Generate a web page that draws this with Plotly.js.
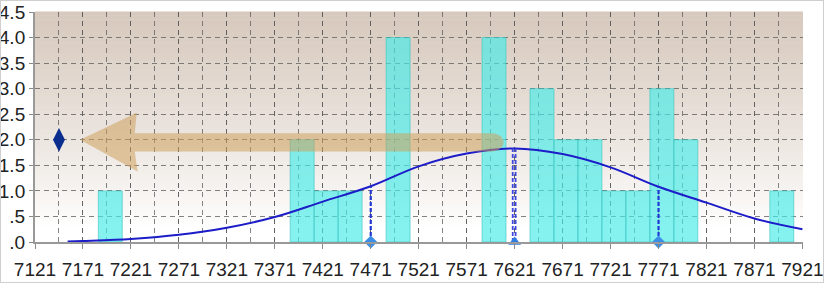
<!DOCTYPE html>
<html>
<head>
<meta charset="utf-8">
<script src="https://cdn.plot.ly/plotly-3.0.1.min.js"></script>
<style>
html,body{margin:0;padding:0;background:#fff;}
#chart{width:824px;height:283px;}
#frame{position:absolute;left:0;top:0;width:822px;height:281px;border:1px solid #cfcfcf;pointer-events:none;}
</style>
</head>
<body>
<div id="chart"></div>
<div id="frame"></div>
<script>
// ---- data ----
const binLeft  = [7187, 7387, 7412, 7437, 7487, 7587, 7637, 7662, 7687, 7712, 7737, 7762, 7787, 7887];
const binCount = [1,    2,    1,    1,    4,    4,    3,    2,    2,    1,    1,    3,    2,    1];
const binWidth = 25;

const curveX = [7155, 7171, 7221, 7271, 7321, 7371, 7421, 7471, 7521, 7571, 7621, 7671, 7721, 7771, 7821, 7871, 7921];
const curveY = [0.01, 0.02, 0.06, 0.14, 0.28, 0.49, 0.79, 1.09, 1.48, 1.73, 1.83, 1.72, 1.46, 1.08, 0.77, 0.46, 0.25];

const sigmaX = [7471, 7771];
const sigmaTop = [1.09, 1.08];
const meanX = [7621];
const meanTop = [1.83];

const legendMarkX = [7146];
const legendMarkY = [2.0];

const xTickVals = [7121, 7171, 7221, 7271, 7321, 7371, 7421, 7471, 7521, 7571, 7621, 7671, 7721, 7771, 7821, 7871, 7921];
const yTickVals = [0, 0.5, 1.0, 1.5, 2.0, 2.5, 3.0, 3.5, 4.0, 4.5];
const yTickText = ['.0', '.5', '1.0', '1.5', '2.0', '2.5', '3.0', '3.5', '4.0', '4.5'];

// ---- traces ----
const traces = [];
traces.push({
  type: 'bar', x: binLeft, y: binCount, width: binWidth, offset: 0,
  marker: {color: 'rgba(70,236,232,0.66)', line: {color: 'rgba(50,190,186,0.55)', width: 1}},
  hoverinfo: 'skip'
});
traces.push({
  type: 'scatter', mode: 'lines', x: curveX, y: curveY,
  line: {color: '#1c1cc8', width: 2, shape: 'spline', smoothing: 1}
});
sigmaX.forEach((x, i) => {
  traces.push({type: 'scatter', mode: 'lines', x: [x, x], y: [0, sigmaTop[i]],
    line: {color: '#2238d4', width: 2.2, dash: '4px,2px'}});
});
meanX.forEach((x, i) => {
  traces.push({type: 'scatter', mode: 'lines', x: [x - 2, x - 2], y: [0, meanTop[i]],
    line: {color: '#4048e0', width: 1.8, dash: '4px,2px'}});
  traces.push({type: 'scatter', mode: 'lines', x: [x + 1, x + 1], y: [0, meanTop[i]],
    line: {color: '#4048e0', width: 1.8, dash: '4px,2px'}});
});
traces.push({type: 'scatter', mode: 'markers', x: sigmaX, y: sigmaX.map(() => 0), cliponaxis: false,
  marker: {symbol: 'diamond', size: 10, color: '#3a8ee6'}});
traces.push({type: 'scatter', mode: 'markers', x: meanX, y: meanX.map(() => 0), cliponaxis: false,
  marker: {symbol: 'triangle-up', size: 11, color: '#2f7de2'}});
traces.push({type: 'scatter', mode: 'markers', x: legendMarkX, y: legendMarkY,
  marker: {symbol: 'diamond-tall', size: 17, color: '#0b2e8e'}});

// ---- background gradient strips ----
const shapes = [];
const N = 60;
const bgTop = [214, 200, 188], bgBot = [255, 255, 255];
for (let i = 0; i < N; i++) {
  const y0 = i / N, y1 = (i + 1) / N;
  let t = Math.min(1, Math.max(0, (y0 - 0.06) / 0.94));
  t = Math.pow(t, 0.85);
  const c = bgBot.map((b, k) => Math.round(b + (bgTop[k] - b) * t));
  shapes.push({type: 'rect', xref: 'paper', yref: 'paper', x0: 0, x1: 1, y0: y0, y1: y1 + 0.002,
    fillcolor: `rgb(${c[0]},${c[1]},${c[2]})`, line: {width: 0}, layer: 'below'});
}
// decorative arrow
shapes.push({type: 'path', xref: 'x', yref: 'y', layer: 'above',
  path: 'M 7168,2.0 L 7227,2.53 L 7225,2.13 L 7596,2.13 C 7614,2.13 7614,1.77 7596,1.77 L 7225,1.77 L 7228,1.38 Z',
  fillcolor: 'rgba(205,160,92,0.55)', line: {width: 0}});

const gridStyle = {gridcolor: 'rgba(90,90,90,0.75)', gridwidth: 1, griddash: '5px,4px'};

const layout = {
  width: 824, height: 283,
  margin: {l: 35, r: 21, t: 12, b: 41, autoexpand: false},
  paper_bgcolor: 'rgba(0,0,0,0)', plot_bgcolor: 'rgba(0,0,0,0)',
  showlegend: false,
  bargap: 0,
  shapes: shapes,
  xaxis: Object.assign({
    range: [7121, 7921.6], tickvals: xTickVals, showgrid: true,
    minor: Object.assign({dtick: 25, tick0: 7121, showgrid: true}, gridStyle),
    ticks: 'outside', ticklen: 5, tickcolor: '#888', tickwidth: 1,
    showline: true, linecolor: '#999', linewidth: 2,
    zeroline: false, ticklabelstandoff: 4, ticklabeloverflow: 'allow', automargin: false,
    tickfont: {family: 'Liberation Sans Narrow, Arial Narrow, sans-serif', size: 19, color: '#222'}
  }, gridStyle),
  yaxis: Object.assign({
    range: [0, 4.5], tickvals: yTickVals, ticktext: yTickText, showgrid: true,
    ticks: 'outside', ticklen: 4, tickcolor: '#888', tickwidth: 1,
    showline: true, linecolor: '#999', linewidth: 2, zeroline: false,
    tickfont: {family: 'Liberation Sans Narrow, Arial Narrow, sans-serif', size: 19, color: '#222'}
  }, gridStyle)
};

Plotly.newPlot('chart', traces, layout, {staticPlot: true, displayModeBar: false});
</script>
</body>
</html>
